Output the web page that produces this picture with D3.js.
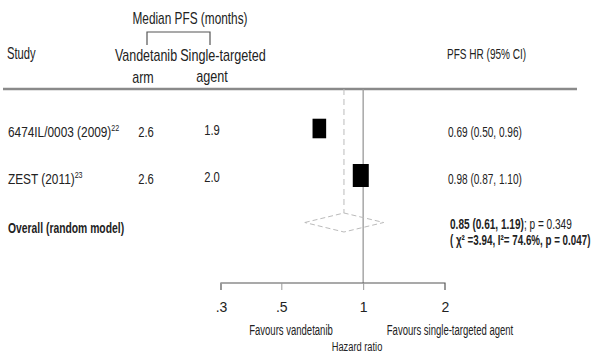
<!DOCTYPE html>
<html>
<head>
<meta charset="utf-8">
<script src="https://cdn.jsdelivr.net/npm/d3@7"></script>
<style>
    body { margin: 0; background: #fff; }
    svg { display: block; }
    text { font-family: 'Liberation Sans', Arial, sans-serif; fill: #222; }
</style>
</head>
<body>
<svg id="chart" width="593" height="356"></svg>
<script>
// data
const studies = ['6474IL/0003 (2009)', 'ZEST (2011)'];
const refs = ['22', '23'];
const vandetanibPFS = ['2.6', '2.6'];
const singlePFS = ['1.9', '2.0'];
const hr = [0.69, 0.98];
const hrLow = [0.50, 0.87];
const hrHigh = [0.96, 1.10];
const weights = [42, 58];
const overall = { hr: 0.85, low: 0.61, high: 1.19, p: '0.349' };
const hetero = '( \u03C7\u00B2 =3.94, I\u00B2= 74.6%, p = 0.047)';
const ticks = [0.3, 0.5, 1, 2];
const tickLabels = ['.3', '.5', '1', '2'];

const svg = d3.select('#chart');

const x = d3.scaleLog().domain([0.3, 2]).range([221, 445]);
const rows = studies.concat(['overall']);
const y = d3.scalePoint().domain(rows).range([128.5, 222.5]);
const boxW = d3.scaleSqrt().domain([0, 58]).range([0, 16]);
const boxH = d3.scaleSqrt().domain([0, 58]).range([0, 23]);

const headerY = 89;
const axisY = 283;

// condensed-looking text: horizontal squeeze around the anchor point
function label(parent, px, py, txt, o = {}) {
    const t = parent.append('text')
        .attr('transform', `translate(${px},${py}) scale(${o.sx || 0.8},1)`)
        .attr('text-anchor', o.anchor || 'start')
        .style('font-size', (o.size || 14) + 'px')
        .style('font-weight', o.weight || 'normal');
    if (txt !== null) t.text(txt);
    return t;
}

// header
label(svg, 190, 24, 'Median PFS (months)', { size: 16, anchor: 'middle', sx: 0.74 });
svg.append('path')
    .attr('d', 'M147,45V32H210V45')
    .attr('fill', 'none').attr('stroke', '#555').attr('stroke-width', 1.2);
label(svg, 7, 59, 'Study', { size: 16, sx: 0.7 });
label(svg, 146, 61, 'Vandetanib', { size: 16, anchor: 'middle', sx: 0.78 });
label(svg, 143, 83, 'arm', { size: 16, anchor: 'middle', sx: 0.78 });
label(svg, 223, 61, 'Single-targeted', { size: 16, anchor: 'middle', sx: 0.79 });
label(svg, 212, 82, 'agent', { size: 16, anchor: 'middle', sx: 0.79 });
label(svg, 447, 59, 'PFS HR (95% CI)', { size: 15, sx: 0.67 });

svg.append('line')
    .attr('x1', 3).attr('x2', 577).attr('y1', headerY).attr('y2', headerY)
    .attr('stroke', '#8a8a8a').attr('stroke-width', 2.5);

// reference lines
svg.append('line')
    .attr('x1', x(1)).attr('x2', x(1)).attr('y1', headerY).attr('y2', axisY)
    .attr('stroke', '#999').attr('stroke-width', 1.3);
svg.append('line')
    .attr('x1', x(overall.hr)).attr('x2', x(overall.hr))
    .attr('y1', headerY).attr('y2', y('overall') - 9.5)
    .attr('stroke', '#bbb').attr('stroke-width', 1).attr('stroke-dasharray', '6,4');

// study rows
const data = studies.map((s, i) => ({
    study: s, ref: refs[i], v: vandetanibPFS[i], s1: singlePFS[i],
    hr: hr[i], low: hrLow[i], high: hrHigh[i], w: weights[i]
}));

svg.selectAll('g.row').data(data).enter().append('g')
    .attr('class', 'row')
    .attr('transform', d => `translate(0,${y(d.study)})`)
    .each(function (d) {
        const g = d3.select(this);
        const name = label(g, 8, 8, null, { size: 15, sx: 0.79 });
        name.append('tspan').text(d.study);
        name.append('tspan').attr('dy', -6).style('font-size', '9px').text(d.ref);
        label(g, 146, 8.5, d.v, { size: 15, anchor: 'middle', sx: 0.75 });
        label(g, 212, 6.5, d.s1, { size: 15, anchor: 'middle', sx: 0.75 });
        g.append('rect')
            .attr('x', x(d.hr) - boxW(d.w) / 2)
            .attr('y', -boxH(d.w) / 2)
            .attr('width', boxW(d.w))
            .attr('height', boxH(d.w))
            .attr('fill', '#000');
        label(g, 448, 8.5, `${d.hr.toFixed(2)} (${d.low.toFixed(2)}, ${d.high.toFixed(2)})`,
            { size: 14, sx: 0.72 });
    });

// overall
const oy = y('overall');
label(svg, 8, oy + 10, 'Overall (random model)', { size: 15, weight: 'bold', sx: 0.69 });
svg.append('path')
    .attr('d', `M${x(overall.low)},${oy}L${x(overall.hr)},${oy - 9.5}L${x(overall.high)},${oy}L${x(overall.hr)},${oy + 9.5}Z`)
    .attr('fill', 'none').attr('stroke', '#bbb').attr('stroke-width', 1).attr('stroke-dasharray', '5,3');
const ot = label(svg, 450, oy + 6, null, { size: 14, sx: 0.72 });
ot.append('tspan').style('font-weight', 'bold')
    .text(`${overall.hr.toFixed(2)} (${overall.low.toFixed(2)}, ${overall.high.toFixed(2)})`);
ot.append('tspan').text(`; p = ${overall.p}`);
label(svg, 450, oy + 22, hetero, { size: 14, weight: 'bold', sx: 0.7 });

// axis
const axis = d3.axisBottom(x).tickValues(ticks)
    .tickFormat((d, i) => tickLabels[i]).tickSize(7).tickPadding(12);
const ag = svg.append('g').attr('transform', `translate(0,${axisY})`).call(axis);
ag.select('.domain').attr('stroke', '#555').attr('stroke-width', 1.2)
    .attr('d', `M${x(0.3)},7V0H${x(2)}V7`);
ag.selectAll('.tick line').attr('stroke', '#999');
ag.selectAll('.tick text').style('font-size', '14px')
    .style('font-family', "'Liberation Sans', sans-serif").attr('fill', '#222');

label(svg, 291, 335, 'Favours vandetanib', { size: 14, anchor: 'middle', sx: 0.68 });
label(svg, 450, 335, 'Favours single-targeted agent', { size: 14, anchor: 'middle', sx: 0.68 });
label(svg, 357, 351, 'Hazard ratio', { size: 13.5, anchor: 'middle', sx: 0.69 });
</script>
</body>
</html>
